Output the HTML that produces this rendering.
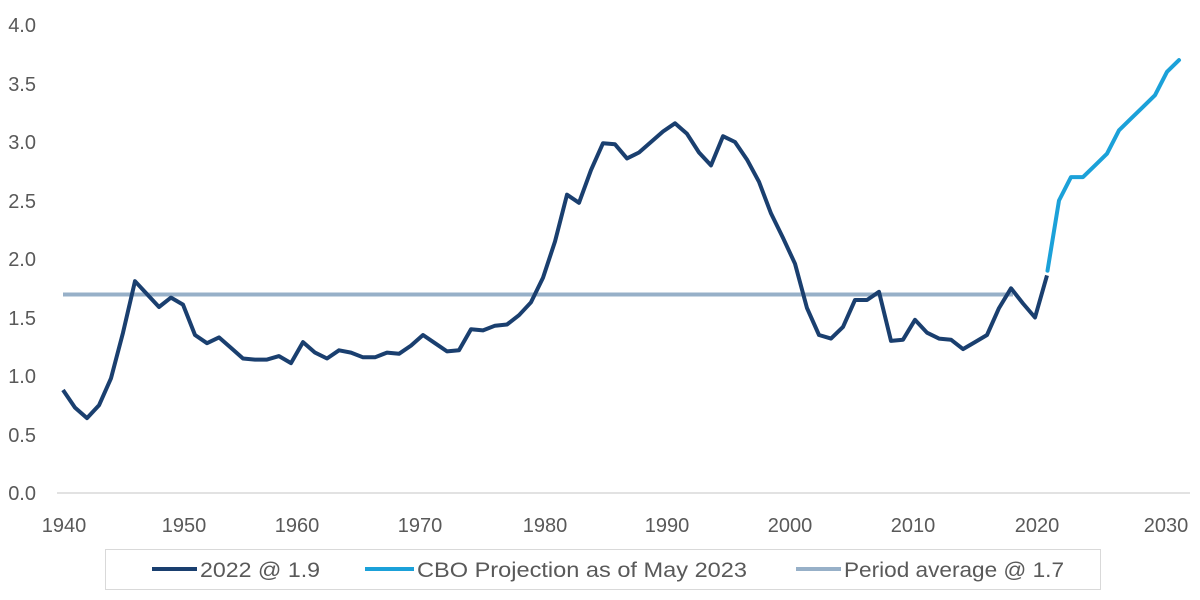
<!DOCTYPE html>
<html><head><meta charset="utf-8"><style>
body{margin:0;background:#fff;}
svg{display:block;font-family:"Liberation Sans",sans-serif;}
</style></head><body>
<svg id="s" width="1200" height="600" viewBox="0 0 1200 600">
<g fill="#595959" font-size="20" text-anchor="end">
<text x="36" y="32">4.0</text><text x="36" y="91">3.5</text><text x="36" y="149">3.0</text>
<text x="36" y="208">2.5</text><text x="36" y="266">2.0</text><text x="36" y="325">1.5</text>
<text x="36" y="383">1.0</text><text x="36" y="442">0.5</text><text x="36" y="500">0.0</text>
</g>
<line x1="57" y1="493" x2="1190" y2="493" stroke="#d9d9d9" stroke-width="1.5"/>
<g fill="#595959" font-size="20" text-anchor="middle">
<text x="64" y="532">1940</text><text x="184" y="532">1950</text><text x="297" y="532">1960</text>
<text x="420" y="532">1970</text><text x="545" y="532">1980</text><text x="667" y="532">1990</text>
<text x="790" y="532">2000</text><text x="913" y="532">2010</text><text x="1037" y="532">2020</text><text x="1166" y="532">2030</text>
</g>
<line x1="63" y1="294.5" x2="1013" y2="294.5" stroke="#97b0c8" stroke-width="4"/>
<polyline id="d" fill="none" stroke="#1a3f6f" stroke-width="4" stroke-linejoin="round"/>
<polyline id="p" fill="none" stroke="#1ba1d9" stroke-width="4" stroke-linejoin="round" stroke-linecap="round"/>
<rect x="105.5" y="549.5" width="995" height="40" fill="none" stroke="#d9d9d9"/>
<g font-size="21" fill="#595959">
<line x1="152" y1="569" x2="197" y2="569" stroke="#1a3f6f" stroke-width="4"/><text x="200" y="577" textLength="120" lengthAdjust="spacingAndGlyphs">2022 @ 1.9</text>
<line x1="365" y1="569" x2="414" y2="569" stroke="#1ba1d9" stroke-width="4"/><text x="417" y="577" textLength="330" lengthAdjust="spacingAndGlyphs">CBO Projection as of May 2023</text>
<line x1="796" y1="569" x2="841" y2="569" stroke="#97b0c8" stroke-width="4"/><text x="844" y="577" textLength="220" lengthAdjust="spacingAndGlyphs">Period average @ 1.7</text>
</g>
</svg>
<script>
var d=[.88,.73,.64,.75,.98,1.37,1.81,1.70,1.59,1.67,1.61,1.35,1.28,1.33,1.24,1.15,1.14,1.14,1.17,1.11,1.29,1.20,1.15,1.22,1.20,1.16,1.16,1.20,1.19,1.26,1.35,1.28,1.21,1.22,1.40,1.39,1.43,1.44,1.52,1.63,1.84,2.15,2.55,2.48,2.76,2.99,2.98,2.86,2.91,3.00,3.09,3.16,3.07,2.91,2.80,3.05,3.00,2.85,2.66,2.39,2.18,1.96,1.58,1.35,1.32,1.42,1.65,1.65,1.72,1.30,1.31,1.48,1.37,1.32,1.31,1.23,1.29,1.35,1.58,1.75,1.62,1.50,1.86];
var p=[1.9,2.5,2.7,2.7,2.8,2.9,3.1,3.2,3.3,3.4,3.6,3.7];
function pts(a,s){return a.map(function(v,i){return (63+12*(s+i))+","+(493-117*v).toFixed(1)}).join(" ")}
document.getElementById("d").setAttribute("points",pts(d,0));
var pp=pts(p,82).split(" ");pp[0]=(63+12*82+0.5)+","+(493-117*1.9);
document.getElementById("p").setAttribute("points",pp.join(" "));
</script>
</body></html>
